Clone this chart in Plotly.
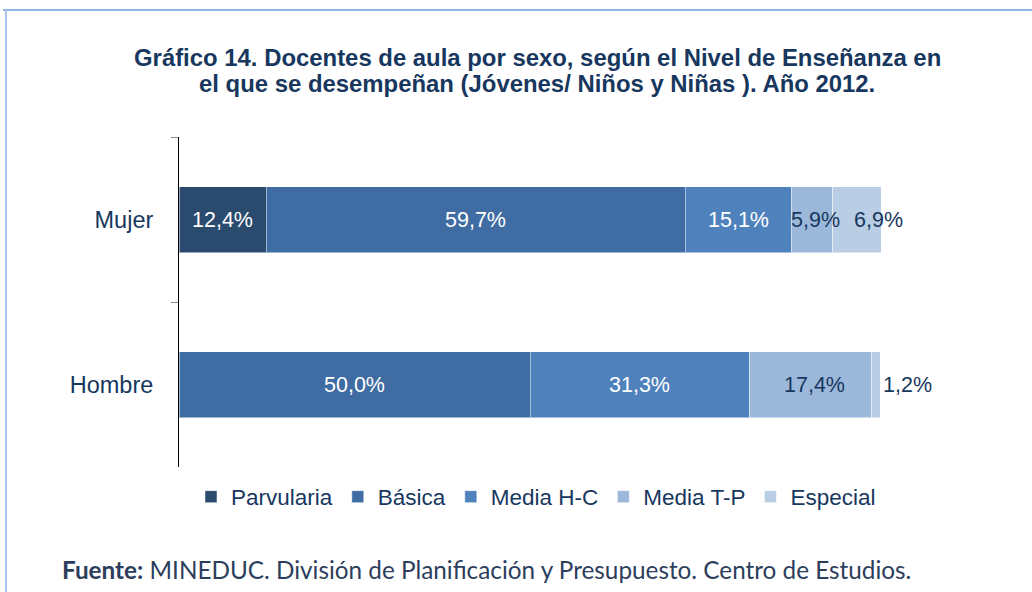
import plotly.graph_objects as go

categories = ["Mujer", "Hombre"]
series_names = ["Parvularia", "Básica", "Media H-C", "Media T-P", "Especial"]
parvularia = [12.4, 0.0]
basica = [59.7, 50.0]
media_hc = [15.1, 31.3]
media_tp = [5.9, 17.4]
especial = [6.9, 1.2]
values = [parvularia, basica, media_hc, media_tp, especial]

colors = ["#2A4A6E", "#3F6CA2", "#4F81BD", "#9BB7DA", "#B9CDE5"]
label_colors = ["white", "white", "white", "#17375E", "#17375E"]
navy = "#17375E"
FONT = "Liberation Sans, Arial"

L, T, PW, PH = 179, 137, 702, 330
W, H = 1032, 592

def px(x):
    return (x - L) / PW

def py(y):
    return (T + PH - y) / PH

fig = go.Figure()
for name, vals, col in zip(series_names, values, colors):
    fig.add_trace(go.Bar(
        y=categories, x=vals, name=name, orientation="h",
        marker=dict(color=col, line=dict(color="rgba(255,255,255,0.5)", width=1)),
        width=0.4, hoverinfo="skip",
    ))

annotations = []
for ci, cat in enumerate(categories):
    cum = 0.0
    for si, vals in enumerate(values):
        v = vals[ci]
        start = cum
        cum += v
        if v <= 0:
            continue
        txt = f"{v:.1f}%".replace(".", ",")
        lf = dict(size=21.5, color=label_colors[si], family=FONT)
        if si == 4 and v < 3:
            annotations.append(dict(x=cum, y=cat, text=txt, showarrow=False,
                                    xanchor="left", xshift=1, font=lf))
        else:
            shift = 22 if si == 4 else (4 if si == 3 else 0)
            annotations.append(dict(x=(start + cum) / 2, y=cat, text=txt, showarrow=False,
                                    xanchor="center", xshift=shift, font=lf))

annotations += [
    dict(xref="paper", yref="paper", x=px(537), y=py(57), text="<b>Gráfico 14. Docentes de aula por sexo, según el Nivel de Enseñanza en</b>",
         showarrow=False, xanchor="center", yanchor="middle",
         font=dict(size=23.9, color=navy, family=FONT)),
    dict(xref="paper", yref="paper", x=px(537), y=py(83), text="<b>el que se desempeñan (Jóvenes/ Niños y Niñas ). Año 2012.</b>",
         showarrow=False, xanchor="center", yanchor="middle",
         font=dict(size=23.9, color=navy, family=FONT)),
    dict(xref="paper", yref="paper", x=px(60), y=py(569), text="<b>Fuente:</b> MINEDUC. División de Planificación y Presupuesto. Centro de Estudios.",
         showarrow=False, xanchor="left", yanchor="middle",
         font=dict(size=24.3, color="#2C3E5C", family="Lato, Open Sans")),
]

shapes = [
    dict(type="line", xref="paper", yref="paper", x0=px(3), x1=px(1032), y0=py(10), y1=py(10),
         line=dict(color="#6FA0DC", width=1.5)),
    dict(type="line", xref="paper", yref="paper", x0=px(6), x1=px(6), y0=py(10), y1=py(592),
         line=dict(color="#A9C4EB", width=2)),
]

fig.update_layout(
    barmode="stack",
    width=W, height=H,
    margin=dict(l=L, r=W - L - PW, t=T, b=H - T - PH, autoexpand=False),
    paper_bgcolor="white", plot_bgcolor="white",
    showlegend=True,
    legend=dict(orientation="h", x=px(536), y=py(497), xanchor="center", yanchor="middle",
                font=dict(size=22.5, color=navy, family=FONT),
                itemwidth=30, tracegroupgap=0, traceorder="normal"),
    xaxis=dict(range=[0, 100], visible=False, fixedrange=True),
    yaxis=dict(categoryorder="array", categoryarray=categories, autorange="reversed",
               showline=True, linecolor="black", linewidth=1,
               ticks="outside", tickson="boundaries", ticklen=7, tickcolor="#888888",
               tickfont=dict(size=23.5, color=navy, family=FONT),
               ticklabelstandoff=20, showgrid=False, fixedrange=True),
    annotations=annotations,
    shapes=shapes,
)

fig.write_html("out.html", config={"displayModeBar": False},
               post_script="document.body.style.margin='0';document.body.style.overflow='hidden';")
